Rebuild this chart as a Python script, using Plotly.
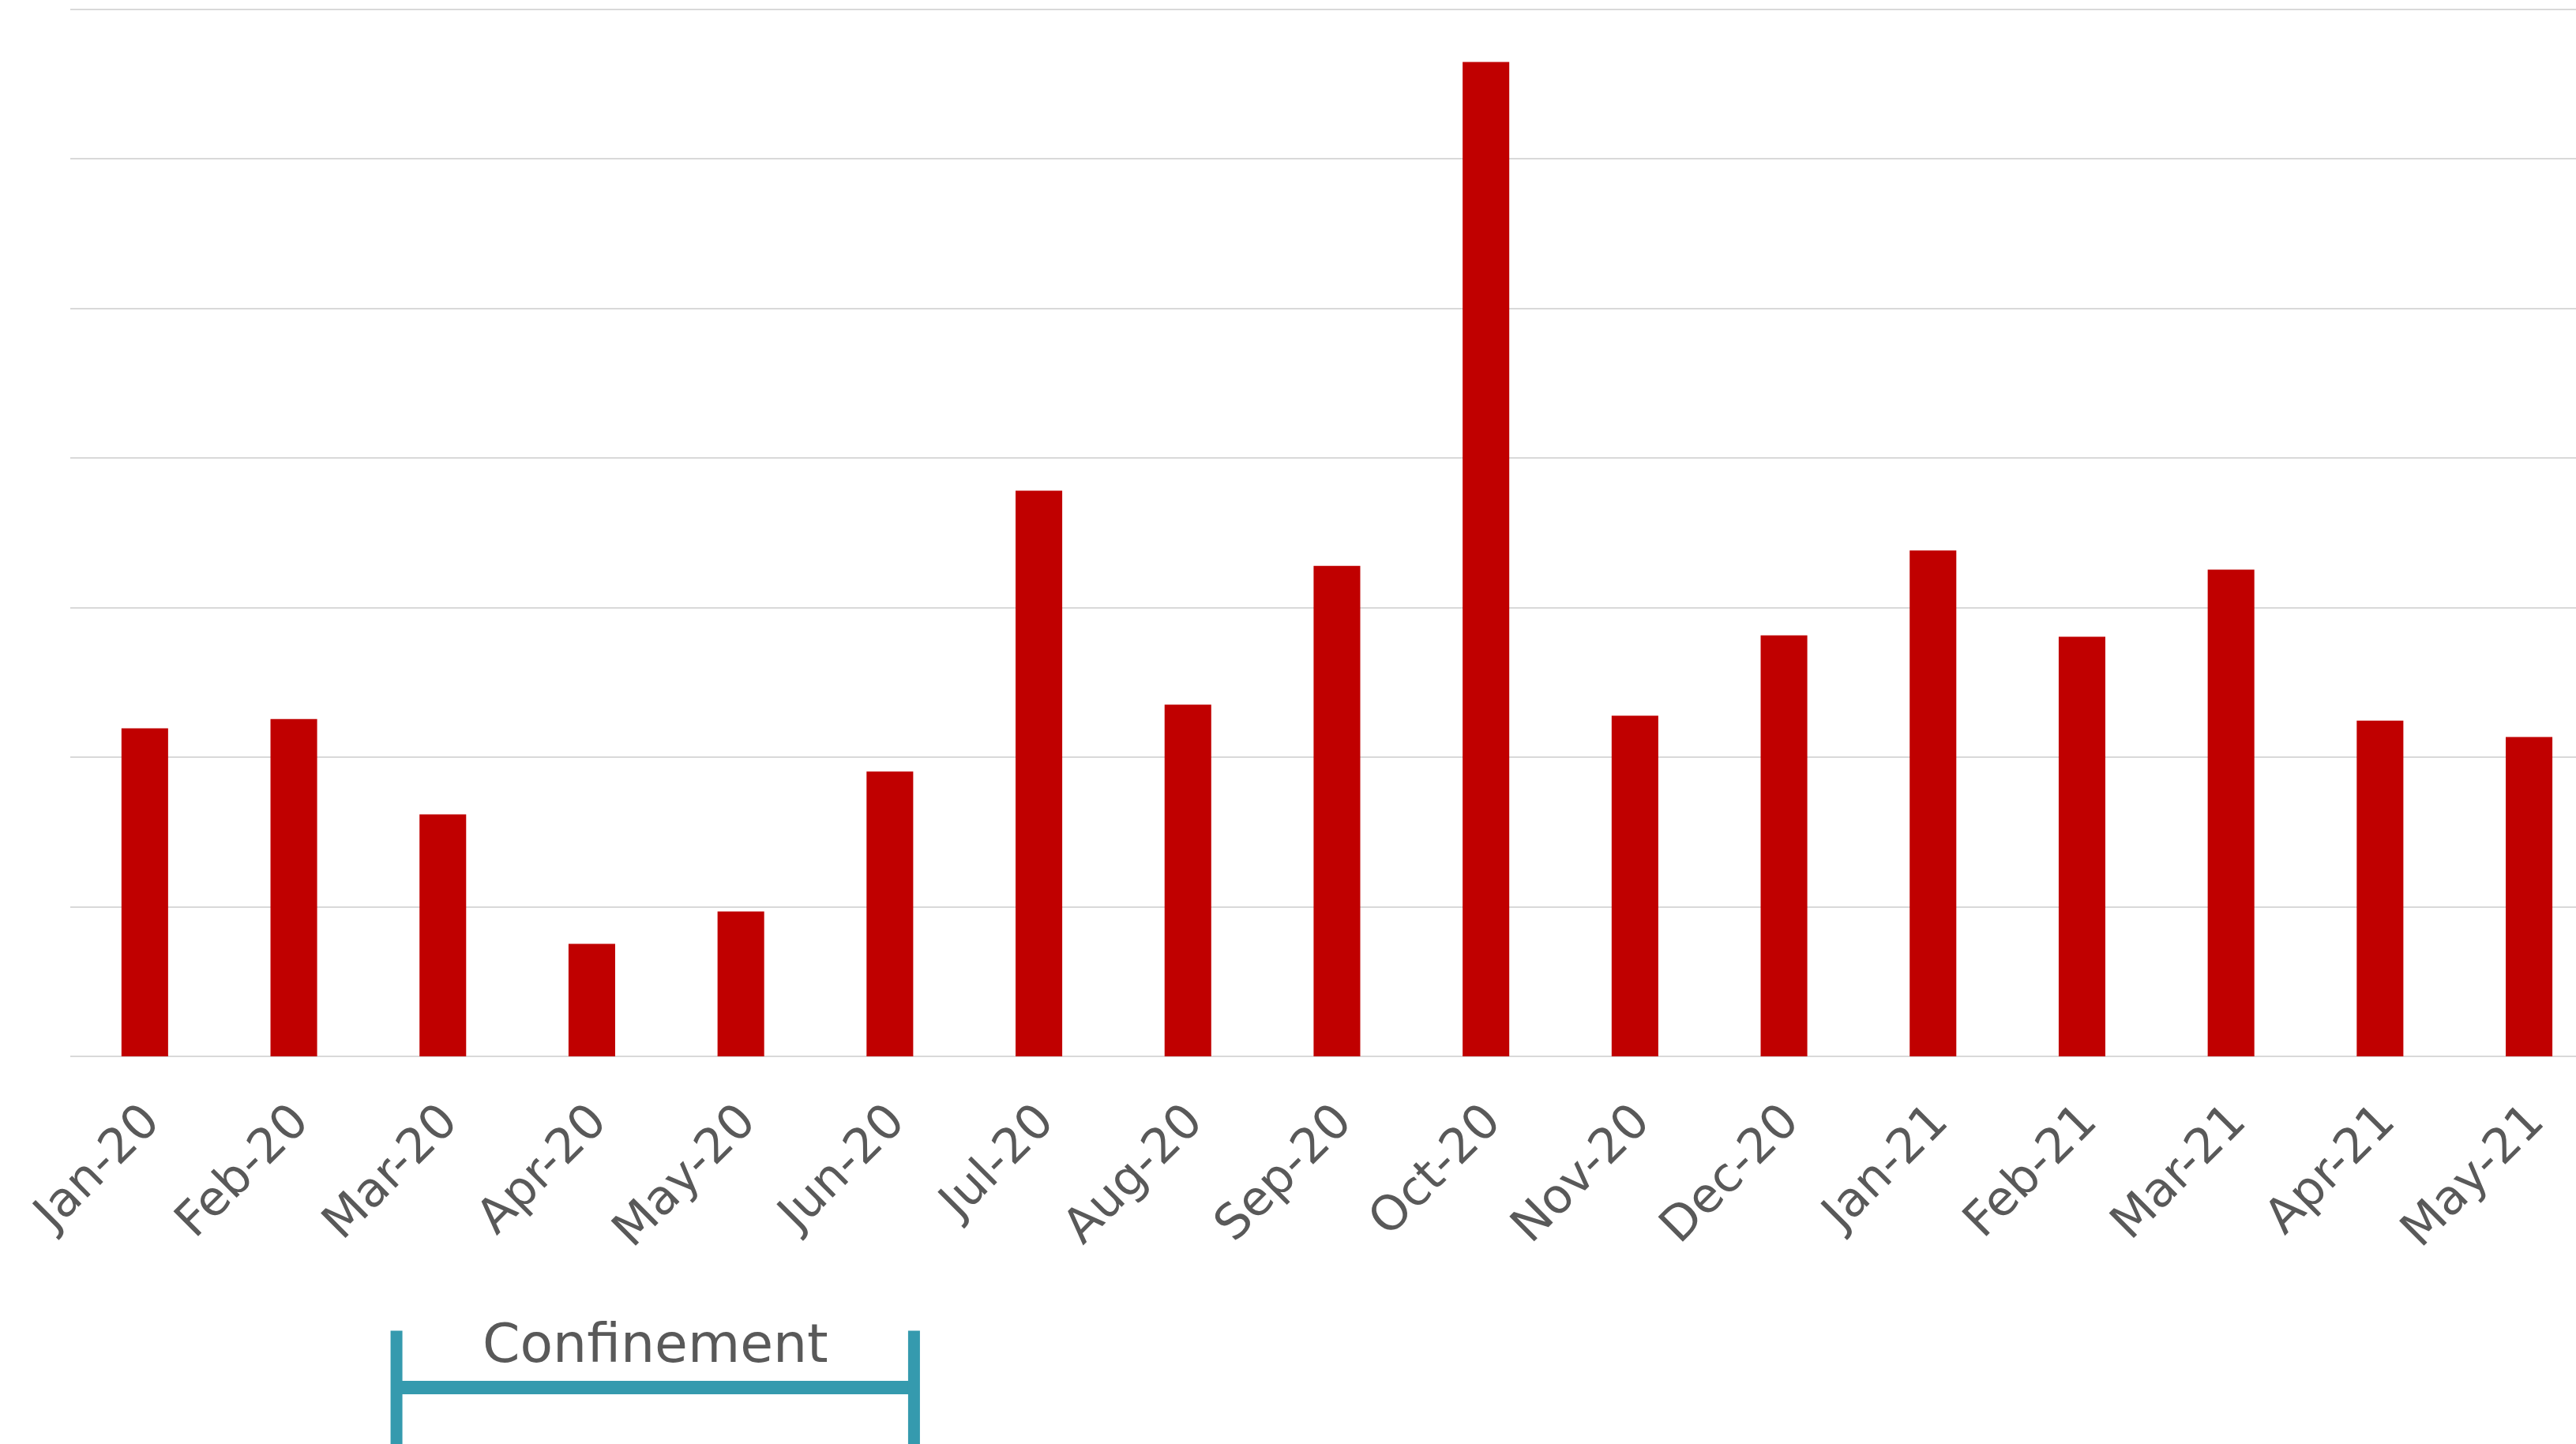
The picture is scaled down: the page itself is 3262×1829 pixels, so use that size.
import plotly.graph_objects as go

months = ["Jan-20", "Feb-20", "Mar-20", "Apr-20", "May-20", "Jun-20", "Jul-20", "Aug-20",
          "Sep-20", "Oct-20", "Nov-20", "Dec-20", "Jan-21", "Feb-21", "Mar-21", "Apr-21", "May-21"]
values = [219.3, 225.5, 161.8, 75.2, 96.9, 190.4, 378.2, 235.1,
          327.9, 664.8, 227.8, 281.4, 338.2, 280.5, 325.4, 224.4, 213.5]

bar_color = "#C00000"
grid_color = "#D9D9D9"
text_color = "#595959"
teal = "#359AAE"
font_family = "Century Gothic, DejaVu Sans, sans-serif"

fig = go.Figure()
fig.add_trace(go.Bar(x=list(range(len(months))), y=values, marker=dict(color=bar_color, line=dict(width=0)),
                     hoverinfo="skip"))

fig.update_layout(
    width=3262, height=1829,
    margin=dict(l=89, r=0, t=8, b=491, pad=0),
    paper_bgcolor="white", plot_bgcolor="white",
    bargap=0.687,
    showlegend=False,
    font=dict(family=font_family, color=text_color),
)
fig.update_xaxes(
    range=[-0.5, 16.315], tickmode="array", tickvals=list(range(len(months))), ticktext=months,
    tickangle=-45, tickfont=dict(size=61, color=text_color, family=font_family),
    ticklabelstandoff=32,
    showgrid=False, zeroline=False, showline=False, ticks="",
)
fig.update_yaxes(
    range=[0, 702], dtick=100, tick0=0, showticklabels=False, ticks="",
    showgrid=True, gridcolor=grid_color, gridwidth=2,
    zeroline=True, zerolinecolor=grid_color, zerolinewidth=2, showline=False,
)

# Confinement bracket
x_left, x_right = 1.689, 5.162
y_h, y_top, y_bot = -0.3154, -0.2613, -0.40
fig.add_shape(type="line", xref="x", yref="paper", x0=x_left, x1=x_right, y0=y_h, y1=y_h,
              line=dict(color=teal, width=17))
fig.add_shape(type="line", xref="x", yref="paper", x0=x_left, x1=x_left, y0=y_top, y1=y_bot,
              line=dict(color=teal, width=15))
fig.add_shape(type="line", xref="x", yref="paper", x0=x_right, x1=x_right, y0=y_top, y1=y_bot,
              line=dict(color=teal, width=15))
fig.add_annotation(x=(x_left + x_right) / 2, xref="x", y=-0.273, yref="paper", text="Confinement",
                   showarrow=False, xanchor="center", yanchor="middle",
                   font=dict(size=68, color=text_color, family=font_family))

fig.write_html("out.html")
